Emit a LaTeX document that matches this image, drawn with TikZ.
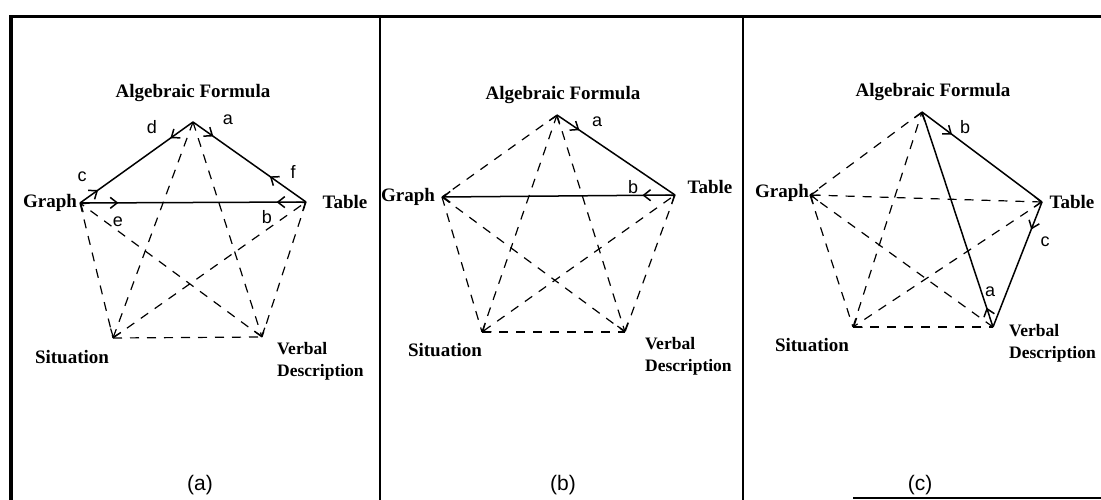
\documentclass[tikz,border=0pt]{standalone}
\usepackage{fontspec}
\setmainfont{Liberation Serif}
\newfontfamily\capfont{Liberation Sans}
\newfontfamily\handfont{Liberation Sans}
\usetikzlibrary{arrows.meta,decorations.markings}
\begin{document}
\begin{tikzpicture}[x=1pt,y=-1pt,
  >={Straight Barb[length=7pt,width=11pt]},
  solidln/.style={line width=1.5pt},
  dashln/.style={line width=1.2pt,dash pattern=on 9pt off 8pt},
  lbl/.style={font=\bfseries\fontsize{19}{22}\selectfont,inner sep=0pt},
  vlbl/.style={font=\bfseries\fontsize{17.5}{22}\selectfont,inner sep=0pt,align=left,anchor=west},
  hand/.style={font=\handfont\fontsize{18}{20}\selectfont,inner sep=0pt},
  captxt/.style={font=\capfont\fontsize{21}{23}\selectfont,inner sep=0pt},
  fwd/.style={postaction={decorate,decoration={markings,mark=at position #1 with {\arrow[line width=1.5pt]{>}}}}},
  rev/.style={postaction={decorate,decoration={markings,mark=at position #1 with {\arrowreversed[line width=1.5pt]{>}}}}},
  frame/.style={line width=#1}
]
\useasboundingbox (0,0) rectangle (1101,500);
% frame
\coordinate (TL) at (9,17);
\coordinate (TR) at (1101,17);
\coordinate (LT) at (11,17);
\coordinate (BL) at (11,500);
\coordinate (D1t) at (380,17);
\coordinate (D1b) at (380,500);
\coordinate (D2t) at (743,17);
\coordinate (D2b) at (743,500);
\coordinate (BRa) at (853,498);
\coordinate (BRb) at (1101,498);
\draw[frame=3pt] (TL) -- (TR);
\draw[frame=4pt] (LT) -- (BL);
\draw[frame=2pt] (D1t) -- (D1b);
\draw[frame=2pt] (D2t) -- (D2b);
\draw[frame=2pt] (BRa) -- (BRb);

% ---------- panel (a)
\coordinate (Aa) at (193,122);
\coordinate (Ga) at (80,203);
\coordinate (Ta) at (306,202);
\coordinate (Sa) at (113,338);
\coordinate (Va) at (262,337);
\node[lbl] (AFa) at (193,93) {Algebraic Formula};
\node[lbl] (GLa) at (50,203) {Graph};
\node[lbl] (TLa) at (345,202) {Table};
\node[lbl] (SLa) at (72,357) {Situation};
\node[vlbl] (VLa) at (277,361) {Verbal\\Description};
\draw[solidln,fwd=0.16,rev=0.8] (Ga) -- (Aa);
\draw[solidln,fwd=0.18,rev=0.68] (Aa) -- (Ta);
\draw[solidln,fwd=0.17,rev=0.87] (Ga) -- (Ta);
\draw[dashln,->] (Aa) -- (Sa);
\draw[dashln,->] (Aa) -- (Va);
\draw[dashln] (Ga) -- (Sa);
\draw[dashln,->] (Va) -- (Ga);
\draw[dashln,->] (Sa) -- (Ta);
\draw[dashln] (Ta) -- (Va);
\draw[dashln] (Sa) -- (Va);
\node[hand] (la1) at (152,127) {d};
\node[hand] (la2) at (228,120) {a};
\node[hand] (la3) at (82,177) {c};
\node[hand] (la4) at (293,172) {f};
\node[hand] (la5) at (118,222) {e};
\node[hand] (la6) at (267,217) {b};
\node[captxt] (capa) at (200,485) {(a)};

% ---------- panel (b)
\coordinate (Ab) at (557,115);
\coordinate (Gb) at (442,197);
\coordinate (Tb) at (675,195);
\coordinate (Sb) at (482,332);
\coordinate (Vb) at (625,332);
\node[lbl] (AFb) at (563,95) {Algebraic Formula};
\node[lbl] (GLb) at (408,197) {Graph};
\node[lbl] (TLb) at (710,187) {Table};
\node[lbl] (SLb) at (445,350) {Situation};
\node[vlbl] (VLb) at (645,356) {Verbal\\Description};
\draw[solidln,fwd=0.19] (Ab) -- (Tb);
\draw[solidln,->,fwd=0.14] (Tb) -- (Gb);
\draw[dashln] (Ab) -- (Gb);
\draw[dashln,->] (Sb) -- (Ab);
\draw[dashln,->] (Ab) -- (Vb);
\draw[dashln] (Gb) -- (Sb);
\draw[dashln] (Gb) -- (Vb);
\draw[dashln,<->] (Sb) -- (Tb);
\draw[dashln] (Tb) -- (Vb);
\draw[dashln] (Sb) -- (Vb);
\node[hand] (lb1) at (597,122) {a};
\node[hand] (lb2) at (633,187) {b};
\node[captxt] (capb) at (563,485) {(b)};

% ---------- panel (c)
\coordinate (Ac) at (922,112);
\coordinate (Gc) at (810,195);
\coordinate (Tc) at (1042,202);
\coordinate (Sc) at (853,327);
\coordinate (Vc) at (993,327);
\node[lbl] (AFc) at (933,92) {Algebraic Formula};
\node[lbl] (GLc) at (782,193) {Graph};
\node[lbl] (TLc) at (1072,202) {Table};
\node[lbl] (SLc) at (812,345) {Situation};
\node[vlbl] (VLc) at (1009,343) {Verbal\\Description};
\draw[solidln,fwd=0.25] (Ac) -- (Tc);
\draw[solidln,fwd=0.22] (Tc) -- (Vc);
\draw[solidln,fwd=0.09] (Vc) -- (Ac);
\draw[dashln] (Ac) -- (Gc);
\draw[dashln,->] (Sc) -- (Ac);
\draw[dashln,<->] (Gc) -- (Tc);
\draw[dashln] (Gc) -- (Sc);
\draw[dashln,->] (Vc) -- (Gc);
\draw[dashln,->] (Tc) -- (Sc);
\draw[dashln] (Sc) -- (Vc);
\node[hand] (lc1) at (965,127) {b};
\node[hand] (lc2) at (1045,242) {c};
\node[hand] (lc3) at (990,292) {a};
\node[captxt] (capc) at (920,485) {(c)};
\end{tikzpicture}
\end{document}
